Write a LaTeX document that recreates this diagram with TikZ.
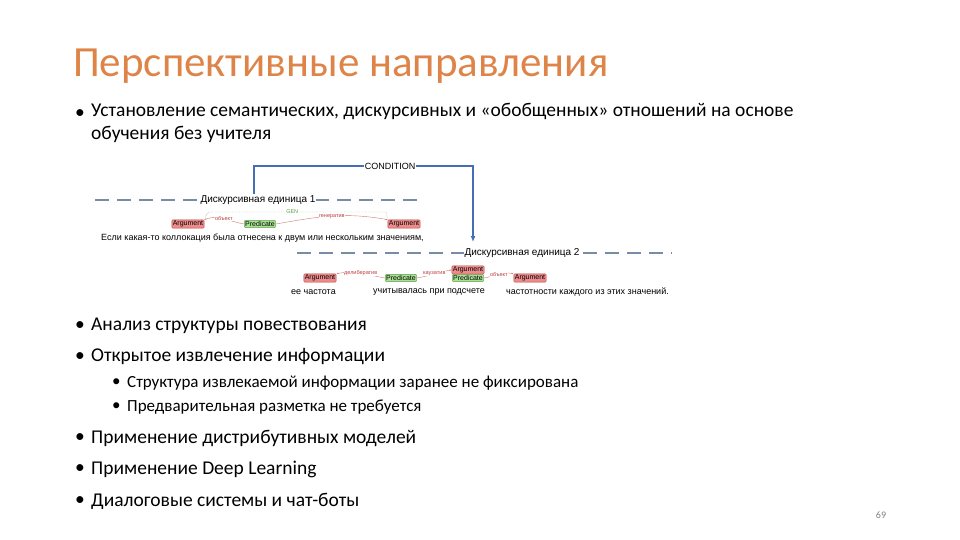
\documentclass[tikz,border=0pt]{standalone}
\usepackage{fontspec}
\setmainfont{Carlito}
\newfontfamily\dfont{Liberation Sans}
\usetikzlibrary{arrows.meta}
\definecolor{ttl}{RGB}{222,132,72}
\definecolor{dl}{RGB}{120,140,165}
\definecolor{cb}{RGB}{70,110,180}
\definecolor{argf}{RGB}{235,140,140}
\definecolor{argd}{RGB}{190,60,60}
\definecolor{prf}{RGB}{170,225,150}
\definecolor{prd}{RGB}{90,160,70}
\tikzset{
 x=1pt,y=-1pt,
 arg/.style={draw=argd,fill=argf,rounded corners=1pt,inner sep=1pt,font=\dfont\fontsize{7}{7}\selectfont},
 pred/.style={draw=prd,fill=prf,rounded corners=1pt,inner sep=1pt,font=\dfont\fontsize{7}{7}\selectfont},
 rel/.style={draw=argd!70,-{Latex[length=2pt]},thin},
 rlab/.style={font=\dfont\fontsize{5.5}{5.5}\selectfont,text=argd,fill=white,inner sep=0.5pt},
 dash1/.style={draw=dl,line width=1.3pt,dash pattern=on 14pt off 8pt},
 unit/.style={font=\dfont\fontsize{10}{10}\selectfont,fill=white,inner sep=1pt},
 sent/.style={font=\dfont\fontsize{9}{9}\selectfont,anchor=west,inner sep=0},
 bul/.style={anchor=west,font=\fontsize{19.5}{22}\selectfont,inner sep=0},
 sbul/.style={anchor=west,font=\fontsize{17}{19}\selectfont,inner sep=0}
}
\begin{document}
\begin{tikzpicture}
\useasboundingbox (0,0) rectangle (960,540);
\node[anchor=west,inner sep=0,text=ttl,font=\fontsize{43}{46}\selectfont] (title) at (73,66) {Перспективные направления};
\node[bul] (b1) at (75,114) {•};
\node[bul,anchor=north west,align=left,font=\fontsize{19.5}{23}\selectfont] (t1) at (91,103) {Установление семантических, дискурсивных и «обобщенных» отношений на основе\\обучения без учителя};
% diagram
\coordinate (d1a) at (95,200); \coordinate (d1b) at (420,200);
\draw[dash1] (d1a) -- (d1b);
\node[unit] (u1) at (258,200) {Дискурсивная единица 1};
\coordinate (d2a) at (297,253); \coordinate (d2b) at (672,253);
\draw[dash1] (d2a) -- (d2b);
\node[unit] (u2) at (522,253) {Дискурсивная единица 2};
\coordinate (c1) at (254,194); \coordinate (c2) at (254,166); \coordinate (c3) at (473,166); \coordinate (c4) at (473,242);
\draw[cb,line width=1.3pt,-{Latex[length=6pt,width=5pt]}] (c1) -- (c2) -- (c3) -- (c4);
\node[font=\dfont\fontsize{9}{9}\selectfont,fill=white,inner sep=1pt] (cond) at (390,166) {CONDITION};
% row 1
\node[arg] (a1) at (188,224) {Argument};
\node[pred] (p1) at (260,224) {Predicate};
\node[arg] (a2) at (404,224) {Argument};
\draw[rel] (p1.west) to[out=170,in=20] node[rlab]{объект} (a1.north east);
\draw[rel] (p1.east) to[out=10,in=170] node[rlab]{генератив} (a2.north west);
\coordinate (g1) at (210,212); \coordinate (g2) at (385,212);
\draw[prd,densely dotted,thin] (a1.north east) to[out=60,in=180] (g1) -- node[fill=white,inner sep=0.5pt,font=\dfont\fontsize{5.5}{5.5}\selectfont,text=prd,pos=0.47]{GEN} (g2) to[out=0,in=120] (a2.north west);
\node[sent] (s1) at (101,238) {Если какая-то коллокация была отнесена к двум или нескольким значениям,};
% row 2
\node[arg] (a3) at (320,278) {Argument};
\node[pred] (p2) at (401,278) {Predicate};
\node[pred] (p3) at (468,278) {Predicate};
\node[arg,anchor=south] (a4) at (p3.north) {Argument};
\node[arg] (a5) at (530,278) {Argument};
\draw[rel] (p2.west) to[out=170,in=10] node[rlab]{делибератив} (a3.north east);
\draw[rel] (p2.east) to[out=10,in=190] node[rlab]{каузатив} (a4.west);
\draw[rel] (p3.east) to[out=10,in=170] node[rlab]{объект} (a5.north west);
\node[sent] (s2) at (291,292) {ее частота};
\node[sent] (s3) at (373,292) {учитывалась при подсчете};
\node[sent] (s4) at (506,292) {частотности каждого из этих значений.};
% bullets
\node[bul] (b2) at (75,326) {•}; \node[bul] (t2) at (91,326) {Анализ структуры повествования};
\node[bul] (b3) at (75,357) {•}; \node[bul] (t3) at (91,357) {Открытое извлечение информации};
\node[sbul] (b4) at (112,383) {•}; \node[sbul] (t4) at (127,383) {Структура извлекаемой информации заранее не фиксирована};
\node[sbul] (b5) at (112,407) {•}; \node[sbul] (t5) at (127,407) {Предварительная разметка не требуется};
\node[bul] (b6) at (75,438) {•}; \node[bul] (t6) at (91,438) {Применение дистрибутивных моделей};
\node[bul] (b7) at (75,469) {•}; \node[bul] (t7) at (91,469) {Применение Deep Learning};
\node[bul] (b8) at (75,501) {•}; \node[bul] (t8) at (91,501) {Диалоговые системы и чат-боты};
\node[font=\fontsize{10}{10}\selectfont,text=gray] (pg) at (881,515) {69};
\end{tikzpicture}
\end{document}
